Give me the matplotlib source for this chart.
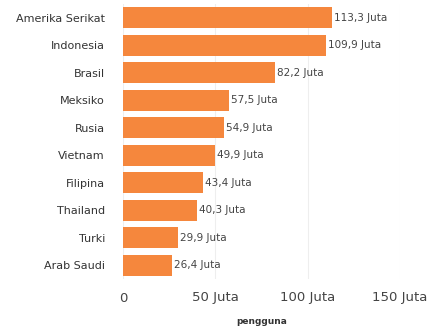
import matplotlib.pyplot as plt

# Pengguna per negara (juta)
countries = ["Amerika Serikat", "Indonesia", "Brasil", "Meksiko", "Rusia",
             "Vietnam", "Filipina", "Thailand", "Turki", "Arab Saudi"]
users = [113.3, 109.9, 82.2, 57.5, 54.9, 49.9, 43.4, 40.3, 29.9, 26.4]
tick_values = [0, 50, 100, 150]
tick_labels = ["0", "50 Juta", "100 Juta", "150 Juta"]

fig = plt.figure(figsize=(4.37, 3.26), dpi=100)
ax = fig.add_axes([123 / 437, 47 / 326, 277 / 437, 275 / 326])

y = list(range(len(countries)))
ax.barh(y, users, height=0.75, color="#f5873d", zorder=2)

for yi, v in zip(y, users):
    ax.text(v + 1.0, yi, f"{v:.1f}".replace(".", ",") + " Juta",
            va="center", ha="left", fontsize=7.5, color="#444444")

ax.set_yticks(y)
ax.set_yticklabels(countries, fontsize=8, color="#333333")
ax.set_ylim(len(countries) - 0.5, -0.5)

ax.set_xlim(0, 150)
ax.set_xticks(tick_values)
ax.set_xticklabels(tick_labels, fontsize=9.5, color="#444444")
ax.tick_params(axis="both", length=0)
ax.tick_params(axis="y", pad=13)
ax.tick_params(axis="x", pad=9)

ax.grid(axis="x", color="#eeeeee", linewidth=0.8, zorder=0)
for s in ax.spines.values():
    s.set_visible(False)

ax.set_xlabel("pengguna", fontsize=6.5, fontweight="bold", color="#333333", labelpad=9)

plt.savefig("out.png", dpi=100)
